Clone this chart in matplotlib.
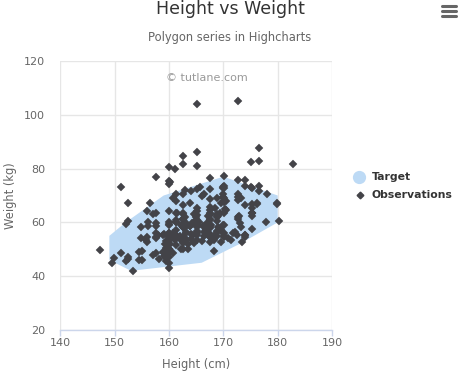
import matplotlib
matplotlib.use("Agg")
import matplotlib.pyplot as plt
from matplotlib.lines import Line2D

# Data
target = [[153, 42], [149, 46], [149, 55], [152, 60], [159, 70], [170, 77],
          [180, 70], [180, 60], [173, 52], [166, 45]]
observations = [[161.2, 51.6], [167.5, 59.0], [159.5, 49.2], [157.0, 63.0], [155.8, 53.6],
    [170.0, 59.0], [159.1, 47.6], [166.0, 69.8], [176.2, 66.8], [160.2, 75.2],
    [172.5, 55.2], [170.9, 54.2], [172.9, 62.5], [153.4, 42.0], [160.0, 50.0],
    [147.2, 49.8], [168.2, 49.2], [175.0, 73.2], [157.0, 47.8], [167.6, 68.8],
    [159.5, 50.6], [175.0, 82.5], [166.8, 57.2], [176.5, 87.8], [170.2, 72.8],
    [174.0, 54.5], [173.0, 59.8], [179.9, 67.3], [170.5, 67.8], [160.0, 47.0],
    [154.4, 46.2], [162.0, 55.0], [176.5, 83.0], [160.0, 54.4], [152.0, 45.8],
    [162.1, 53.6], [170.0, 73.2], [160.2, 52.1], [161.3, 67.9], [166.4, 56.6],
    [168.9, 62.3], [163.8, 58.5], [167.6, 54.5], [160.0, 50.2], [161.3, 60.3],
    [167.6, 58.3], [165.1, 56.2], [160.0, 50.2], [170.0, 72.9], [157.5, 59.8],
    [167.6, 61.0], [160.7, 69.1], [163.2, 55.9], [152.4, 46.5], [157.5, 54.3],
    [168.3, 54.8], [180.3, 60.7], [165.5, 60.0], [165.0, 62.0], [164.5, 60.3],
    [156.0, 52.7], [160.0, 74.3], [163.0, 62.0], [165.7, 73.1], [161.0, 80.0],
    [162.0, 54.7], [166.0, 53.2], [174.0, 75.7], [172.7, 61.1], [167.6, 55.7],
    [151.1, 48.7], [164.5, 52.3], [163.5, 50.0], [152.0, 59.3], [169.0, 62.5],
    [164.0, 55.7], [161.2, 54.8], [155.0, 45.9], [170.0, 70.6], [176.2, 67.2],
    [170.0, 69.4], [162.5, 58.2], [170.3, 64.8], [164.1, 71.6], [169.5, 52.8],
    [163.2, 59.8], [154.5, 49.0], [159.8, 50.0], [173.2, 69.2], [170.0, 55.9],
    [161.4, 63.4], [169.0, 58.2], [166.2, 58.6], [159.4, 45.7], [162.5, 52.2],
    [159.0, 48.6], [162.8, 57.8], [159.0, 55.6], [179.8, 66.8], [162.9, 59.4],
    [161.0, 53.6], [151.1, 73.2], [168.2, 53.4], [168.9, 69.0], [173.2, 58.4],
    [171.8, 56.2], [178.0, 70.6], [164.3, 59.8], [163.0, 72.0], [168.5, 65.2],
    [166.8, 56.6], [172.7, 105.2], [163.5, 51.8], [169.4, 63.4], [167.8, 59.0],
    [159.5, 47.6], [167.6, 63.0], [161.2, 55.2], [160.0, 45.0], [163.2, 54.0],
    [162.2, 50.2], [161.3, 60.2], [149.5, 44.8], [157.5, 58.8], [163.2, 56.4],
    [172.7, 62.0], [155.0, 49.2], [156.5, 67.2], [164.0, 53.8], [160.9, 54.4],
    [162.8, 58.0], [167.0, 59.8], [160.0, 54.8], [160.0, 43.2], [168.9, 60.5],
    [158.2, 46.4], [156.0, 64.4], [160.0, 48.8], [167.1, 62.2], [158.0, 55.5],
    [167.6, 57.8], [156.0, 54.6], [162.1, 59.2], [173.4, 52.7], [159.8, 53.2],
    [170.5, 64.5], [159.2, 51.8], [157.5, 56.0], [161.3, 63.6], [162.6, 63.2],
    [160.0, 59.5], [168.9, 56.8], [165.1, 64.1], [162.6, 50.0], [165.1, 72.3],
    [166.4, 55.0], [160.0, 55.9], [152.4, 60.4], [170.2, 69.1], [162.6, 84.5],
    [170.2, 55.9], [158.8, 55.5], [172.7, 69.5], [167.6, 76.4], [162.6, 61.4],
    [167.6, 65.9], [156.2, 58.6], [175.2, 66.8], [172.1, 56.6], [162.6, 58.6],
    [160.0, 55.9], [165.1, 59.1], [182.9, 81.8], [166.4, 70.7], [165.1, 56.8],
    [177.8, 60.0], [165.1, 58.2], [175.3, 72.7], [154.9, 54.1], [158.8, 49.1],
    [172.7, 75.9], [168.9, 55.0], [161.3, 57.3], [167.6, 55.0], [165.1, 65.5],
    [175.3, 65.5], [157.5, 48.6], [163.8, 58.6], [167.6, 63.6], [165.1, 55.2],
    [165.1, 62.7], [168.9, 56.6], [162.6, 53.9], [164.5, 63.2], [176.5, 73.6],
    [168.9, 62.0], [175.3, 63.6], [159.4, 53.2], [160.0, 53.4], [170.2, 55.0],
    [162.6, 70.5], [167.6, 54.5], [162.6, 54.5], [160.7, 55.9], [160.0, 59.0],
    [157.5, 63.6], [162.6, 54.5], [152.4, 47.3], [170.2, 67.7], [165.1, 80.9],
    [172.7, 70.5], [165.1, 60.9], [170.2, 63.6], [170.2, 54.5], [170.2, 59.1],
    [161.3, 70.5], [167.6, 52.7], [167.6, 62.7], [165.1, 86.3], [162.6, 66.4],
    [152.4, 67.3], [168.9, 63.0], [170.2, 73.6], [175.2, 62.3], [175.2, 57.7],
    [160.0, 55.4], [165.1, 104.1], [174.0, 55.5], [170.2, 77.3], [160.0, 80.5],
    [167.6, 64.5], [167.6, 72.3], [167.6, 61.4], [154.9, 58.2], [162.6, 81.8],
    [175.3, 63.6], [171.4, 53.4], [157.5, 54.5], [165.1, 53.6], [160.0, 60.0],
    [174.0, 73.6], [162.6, 61.4], [174.0, 55.5], [162.6, 63.6], [161.3, 60.9],
    [156.2, 60.0], [149.9, 46.8], [169.5, 57.3], [160.0, 64.1], [175.3, 63.6],
    [169.5, 67.3], [160.0, 75.5], [172.7, 68.2], [162.6, 61.4], [157.5, 76.8],
    [176.5, 71.8], [164.4, 55.5], [160.7, 48.6], [174.0, 66.4], [163.8, 67.3]]
x_ticks = [140, 150, 160, 170, 180, 190]
y_ticks = [20, 40, 60, 80, 100, 120]

W, H = 460, 373
fig = plt.figure(figsize=(W / 100, H / 100), dpi=100)
ax = fig.add_axes([60.5 / W, 1 - 330 / H, (332 - 60.5) / W, (330 - 61) / H])

poly_color = "#bddaf5"
obs_color = "#434348"
grid_color = "#e6e6e6"
axis_color = "#ccd6eb"
label_color = "#666666"

tx = [p[0] for p in target]
ty = [p[1] for p in target]
ax.fill(tx, ty, color=poly_color, lw=0, zorder=2)
ox = [p[0] for p in observations]
oy = [p[1] for p in observations]
ax.plot(ox, oy, ls="none", marker="D", ms=4.3, color=obs_color, mec=obs_color, mew=0.3, zorder=3)

ax.set_xlim(140, 190)
ax.set_ylim(20, 120)
ax.set_xticks(x_ticks)
ax.set_yticks(y_ticks)
ax.grid(True, color=grid_color, lw=1, zorder=0)
ax.set_axisbelow(True)
for s in ["top", "right", "left"]:
    ax.spines[s].set_visible(False)
ax.spines["bottom"].set_color(axis_color)
ax.spines["bottom"].set_linewidth(1)
ax.tick_params(axis="x", colors=label_color, length=4, width=1, color=axis_color, labelsize=8, pad=2)
ax.tick_params(axis="y", colors=label_color, length=0, labelsize=8, pad=11)
ax.set_xlabel("Height (cm)", color=label_color, fontsize=8.3, labelpad=7)
ax.set_ylabel("Weight (kg)", color=label_color, fontsize=8.3, labelpad=5)

fig.text(0.5, 1 - 9 / H, "Height vs Weight", ha="center", va="center", fontsize=12.5, color="#333333")
fig.text(0.5, 1 - 38 / H, "Polygon series in Highcharts", ha="center", va="center", fontsize=8.3, color=label_color)
fig.text(207 / W, 1 - 78 / H, "\u00a9 tutlane.com", ha="center", va="center", fontsize=8, color="#999999")

# hamburger menu icon
for yy in [5.5, 10.5, 15.5]:
    fig.add_artist(Line2D([442 / W, 456 / W], [1 - yy / H, 1 - yy / H], color=label_color, lw=2.2, solid_capstyle="round"))

# legend
fig.add_artist(Line2D([359 / W], [1 - 177 / H], marker="o", ms=8.5, color="#bddaf5", mec="#bddaf5", ls="none"))
fig.text(372 / W, 1 - 177 / H, "Target", ha="left", va="center", fontsize=7.8, fontweight="bold", color="#333333")
fig.add_artist(Line2D([360 / W], [1 - 195 / H], marker="D", ms=3.4, color=obs_color, ls="none"))
fig.text(372 / W, 1 - 195 / H, "Observations", ha="left", va="center", fontsize=7.8, fontweight="bold", color="#333333")

fig.savefig("out.png", dpi=100)
